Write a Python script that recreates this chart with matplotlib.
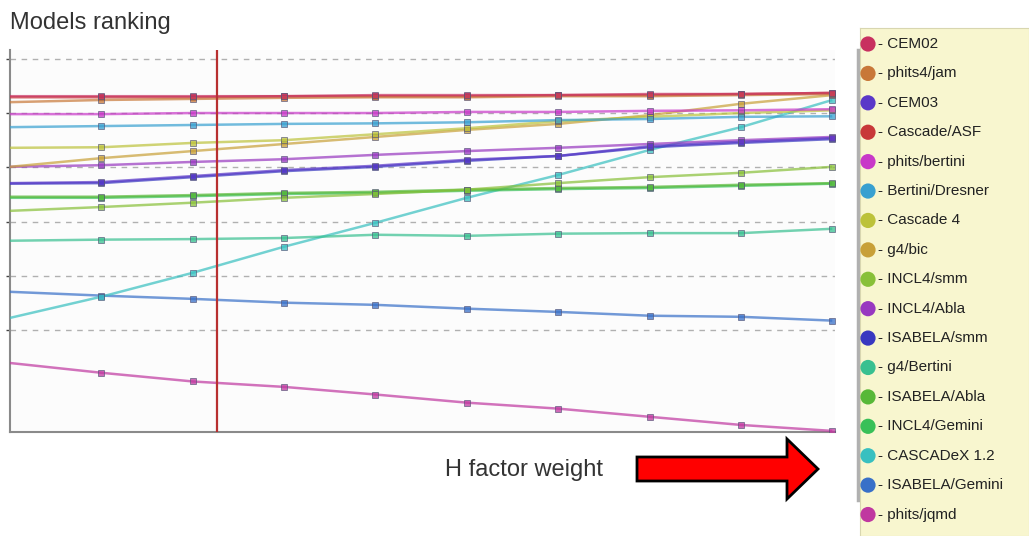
import numpy as np
import matplotlib
matplotlib.use('Agg')
from matplotlib import pyplot as plt
from matplotlib.patches import FancyArrow

## H factor weight steps (x) and ranking score of each model
steps = [0, 1, 2, 3, 4, 5, 6, 7, 8, 9]

models = ['CEM02', 'phits4/jam', 'CEM03', 'Cascade/ASF', 'phits/bertini',
          'Bertini/Dresner', 'Cascade 4', 'g4/bic', 'INCL4/smm', 'INCL4/Abla',
          'ISABELA/smm', 'g4/Bertini', 'ISABELA/Abla', 'INCL4/Gemini',
          'CASCADeX 1.2', 'ISABELA/Gemini', 'phits/jqmd']

cem02          = [6.31, 6.31, 6.31, 6.31, 6.33, 6.33, 6.33, 6.35, 6.35, 6.37]
phits4_jam     = [6.20, 6.24, 6.26, 6.28, 6.29, 6.29, 6.31, 6.31, 6.33, 6.35]
cem03          = [4.71, 4.73, 4.84, 4.95, 5.03, 5.14, 5.21, 5.39, 5.47, 5.54]
cascade_asf    = [6.29, 6.29, 6.29, 6.31, 6.31, 6.31, 6.33, 6.33, 6.35, 6.37]
phits_bertini  = [5.98, 5.98, 6.00, 6.00, 6.00, 6.02, 6.02, 6.04, 6.05, 6.07]
bertini_dresn  = [5.74, 5.76, 5.78, 5.80, 5.81, 5.83, 5.87, 5.89, 5.93, 5.94]
cascade4       = [5.36, 5.37, 5.45, 5.50, 5.61, 5.72, 5.85, 5.93, 6.00, 6.05]
g4_bic         = [5.01, 5.17, 5.30, 5.43, 5.56, 5.69, 5.80, 5.96, 6.17, 6.33]
incl4_smm      = [4.20, 4.27, 4.35, 4.44, 4.51, 4.59, 4.71, 4.82, 4.90, 5.01]
incl4_abla     = [5.01, 5.04, 5.10, 5.15, 5.23, 5.30, 5.36, 5.43, 5.50, 5.56]
isabela_smm    = [4.70, 4.71, 4.82, 4.93, 5.01, 5.12, 5.21, 5.37, 5.45, 5.52]
g4_bertini     = [3.65, 3.67, 3.68, 3.70, 3.76, 3.74, 3.78, 3.79, 3.79, 3.87]
isabela_abla   = [4.46, 4.46, 4.49, 4.53, 4.55, 4.59, 4.62, 4.64, 4.68, 4.71]
incl4_gemini   = [4.44, 4.44, 4.47, 4.51, 4.53, 4.57, 4.60, 4.62, 4.66, 4.70]
cascadex       = [2.23, 2.62, 3.06, 3.54, 3.98, 4.44, 4.86, 5.32, 5.74, 6.24]
isabela_gemini = [2.71, 2.64, 2.58, 2.51, 2.47, 2.40, 2.34, 2.27, 2.25, 2.18]
phits_jqmd     = [1.40, 1.22, 1.06, 0.96, 0.82, 0.67, 0.56, 0.41, 0.26, 0.15]

scores = [cem02, phits4_jam, cem03, cascade_asf, phits_bertini, bertini_dresn,
          cascade4, g4_bic, incl4_smm, incl4_abla, isabela_smm, g4_bertini,
          isabela_abla, incl4_gemini, cascadex, isabela_gemini, phits_jqmd]

colors = ['#c8305f', '#c87838', '#5a38c8', '#c83838', '#c838c8', '#38a0d0',
          '#bcc23a', '#c8a038', '#88c038', '#9838c0', '#3838c0', '#38c090',
          '#58b838', '#38c058', '#38c0c0', '#3870c8', '#c038a0']

grid_levels = [2, 3, 4, 5, 6, 7]
selected_weight = 2.27

fig = plt.figure(figsize=(10.29, 5.36), dpi=100)
fig.patch.set_facecolor('white')

## main chart
ax = fig.add_axes([10/1029, 1 - 432/536, 825/1029, 382/536])
ax.set_facecolor('#fcfcfc')
for lvl in grid_levels:
    ax.axhline(lvl, color='#b0b0b0', lw=1.0, ls=(0, (4, 4)), zorder=1)

for i in reversed(range(len(models))):
    ax.plot(steps, scores[i], color=colors[i], lw=1.8, alpha=0.7, zorder=3,
            solid_capstyle='butt')
    ax.plot(steps[1:], scores[i][1:], ls='none', marker='s', ms=4,
            mfc=colors[i], mec='#555577', mew=0.6, alpha=0.75, zorder=4)

ax.axvline(selected_weight, color='#b83030', lw=1.6, zorder=5)

ax.set_xlim(0, 9.03)
ax.set_ylim(0.13, 7.16)
ax.set_xticks([])
ax.set_yticks(grid_levels)
ax.set_yticklabels([])
ax.tick_params(axis='y', length=3, width=1, color='#444444', direction='out')
for s in ['top', 'right']:
    ax.spines[s].set_visible(False)
for s in ['left', 'bottom']:
    ax.spines[s].set_color('#8a8a8a')
    ax.spines[s].set_linewidth(1.5)

## title and axis hint
fig.text(10/1029, 1 - 23/536, 'Models ranking', fontsize=17, color='#333333',
         family='Liberation Sans', va='center', ha='left')
fig.text(445/1029, 1 - 470/536, 'H factor weight', fontsize=17, color='#333333',
         family='Liberation Sans', va='center', ha='left')

## overlay in pixel units for the big red arrow
ov = fig.add_axes([0, 0, 1, 1])
ov.set_xlim(0, 1029)
ov.set_ylim(536, 0)
ov.axis('off')
ov.patch.set_alpha(0)
ov.add_patch(FancyArrow(637, 469, 181, 0, width=24, head_width=60, head_length=31,
                        length_includes_head=True, fc='#ff0000', ec='black', lw=2))

## legend panel
lg = fig.add_axes([860/1029, 0, 169/1029, 508/536])
lg.set_facecolor('#f8f6cf')
lg.set_xlim(0, 169)
lg.set_ylim(16.73, -0.544)
lg.set_xticks([])
lg.set_yticks([])
for s in lg.spines.values():
    s.set_color('#d8d6b0')
lg.plot([-2, -2], [0.2, 15.5], color='#b0b0b0', lw=2.5, clip_on=False)
lg.scatter([8] * len(models), range(len(models)), s=120, c=colors, zorder=3,
           edgecolors='none')
for i, name in enumerate(models):
    lg.text(18, i, '- ' + name, fontsize=11, va='center', ha='left',
            color='#222222', family='Liberation Sans')

plt.savefig('out.png', dpi=100)
